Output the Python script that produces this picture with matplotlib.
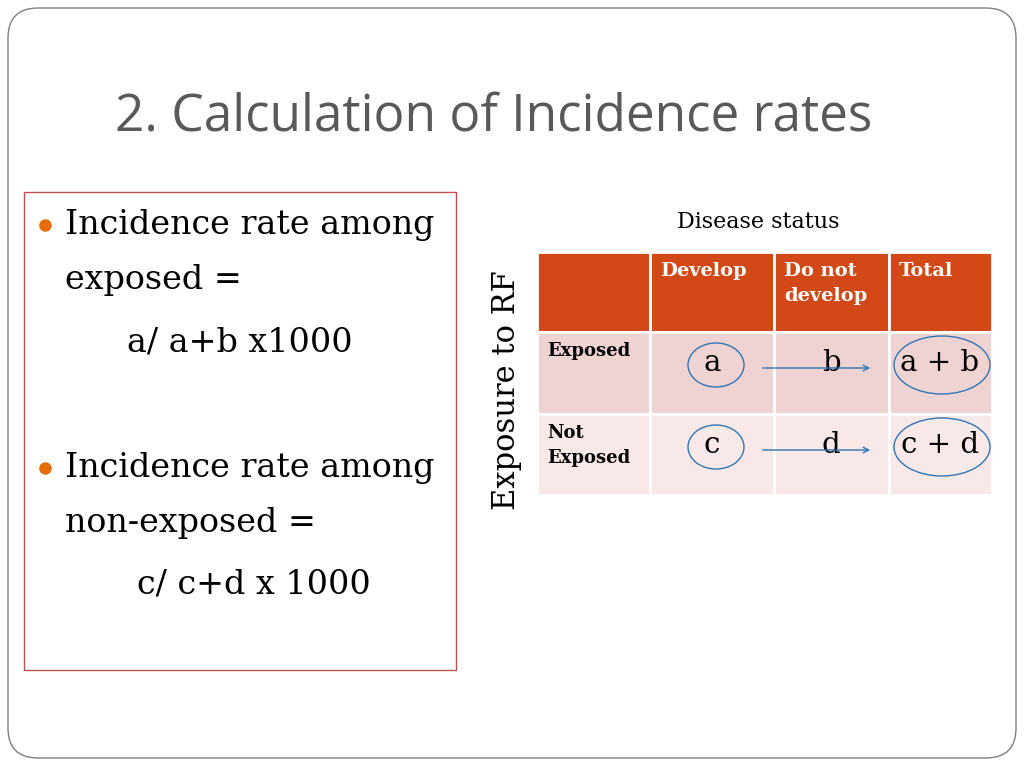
import matplotlib
matplotlib.use("Agg")
import matplotlib.pyplot as plt
from matplotlib.patches import Rectangle, Ellipse, FancyBboxPatch

title = "2. Calculation of Incidence rates"
bullet_lines = [
    ["Incidence rate among", "exposed =", "a/ a+b x1000"],
    ["Incidence rate among", "non-exposed =", "c/ c+d x 1000"],
]
col_headers = ["", "Develop", "Do not\ndevelop", "Total"]
row_labels = ["Exposed", "Not\nExposed"]
cells = [["a", "b", "a + b"], ["c", "d", "c + d"]]

serif = "DejaVu Serif"
blue = "#2e75b6"

fig = plt.figure(figsize=(10.24, 7.68), dpi=100)
ax = fig.add_axes([0, 0, 1, 1])
ax.set_xlim(0, 1024)
ax.set_ylim(768, 0)
ax.axis("off")

# slide frame
ax.add_patch(FancyBboxPatch((8, 8), 1008, 750, boxstyle="round,pad=0,rounding_size=30",
                            fill=False, edgecolor="#808080", lw=1))
ax.text(115, 118, title, fontsize=37, color="#595959", family="Open Sans",
        ha="left", va="center")

# left box
ax.add_patch(Rectangle((24, 192), 432, 478, fill=False, edgecolor="#c0504d", lw=1))
for (l1, l2, l3), y0, x3 in zip(bullet_lines, [225, 468], [127, 137]):
    ax.plot(45, y0, "o", color="#e46c0a", ms=8)
    ax.text(65, y0, l1, fontsize=24, family=serif, va="center")
    ax.text(65, y0 + 55, l2, fontsize=24, family=serif, va="center")
    ax.text(x3, y0 + 117, l3, fontsize=24, family=serif, va="center")

ax.text(758, 222, "Disease status", fontsize=16, family=serif, ha="center", va="center")
ax.text(507, 390, "Exposure to RF", fontsize=22, family=serif, rotation=90,
        ha="center", va="center")

# table
xs = [537, 650, 774, 889, 992]
ys = [252, 332, 414, 495]
fills = ["#d34817", "#efd3d2", "#f8e9e8"]
for r in range(3):
    for c in range(4):
        ax.add_patch(Rectangle((xs[c], ys[r]), xs[c + 1] - xs[c], ys[r + 1] - ys[r],
                               facecolor=fills[r], edgecolor="white", lw=2))
for c, h in enumerate(col_headers):
    ax.text(xs[c] + 10, ys[0] + 10, h, fontsize=14, family=serif, weight="bold",
            color="white", ha="left", va="top", linespacing=1.5)
for r, lab in enumerate(row_labels):
    ax.text(xs[0] + 10, ys[r + 1] + 10, lab, fontsize=13, family=serif, weight="bold",
            ha="left", va="top", linespacing=1.5)
    yc = ys[r + 1] + 33
    for c, val in enumerate(cells[r]):
        xc = [712, 831, 940][c]
        ax.text(xc, yc - 2, val, fontsize=21, family=serif, ha="center", va="center")
    ax.add_patch(Ellipse((716, yc), 56, 44, fill=False, edgecolor=blue, lw=1))
    ax.add_patch(Ellipse((942, yc), 96, 58, fill=False, edgecolor=blue, lw=1))
    ax.annotate("", xy=(873, yc + 3), xytext=(760, yc + 3),
                arrowprops=dict(arrowstyle="->", color=blue, lw=1))

fig.savefig("out.png", dpi=100)
